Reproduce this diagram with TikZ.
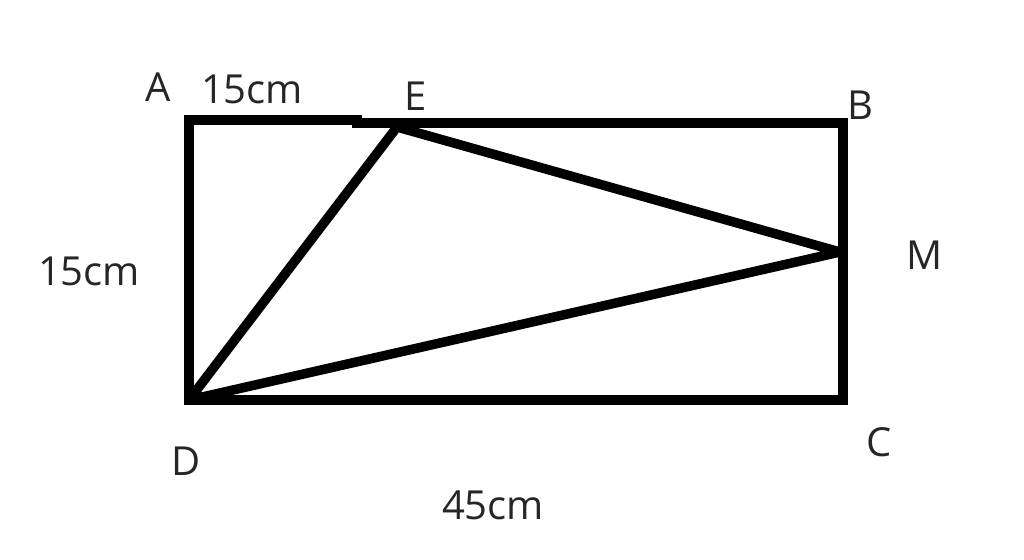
\documentclass[tikz,border=0pt]{standalone}
\usepackage{fontspec}
\setmainfont{Open Sans}
\begin{document}
\begin{tikzpicture}[x=1pt,y=-1pt,
  edge/.style={line width=9.5pt,line join=miter,line cap=rect},
  lbl/.style={inner sep=0pt,font=\fontsize{40}{44}\selectfont,text=black!85}]
\useasboundingbox (0,0) rectangle (1024,559);
% vertices
\coordinate (A) at (189,120);
\coordinate (S1) at (357,120);
\coordinate (S2) at (357,123);
\coordinate (B) at (843,123);
\coordinate (C) at (843,400);
\coordinate (D) at (189,400);
\coordinate (E) at (397,127);
\coordinate (M) at (840,252);
% rectangle
\draw[edge] (S1) -- (A) -- (D) -- (C) -- (B) -- (S2) -- cycle;
% triangle
\draw[edge,line cap=butt,line join=round] (D) -- (E) -- (M) -- cycle;
% labels
\node[lbl] (lA) at (158,87) {A};
\node[lbl] (lAE) at (252,89) {15cm};
\node[lbl] (lE) at (416,96) {E};
\node[lbl] (lB) at (860,105) {B};
\node[lbl] (lM) at (925,255) {M};
\node[lbl] (lAD) at (89,271) {15cm};
\node[lbl] (lD) at (186,461) {D};
\node[lbl] (lC) at (879,442) {C};
\node[lbl] (lDC) at (493,505) {45cm};
\end{tikzpicture}
\end{document}
